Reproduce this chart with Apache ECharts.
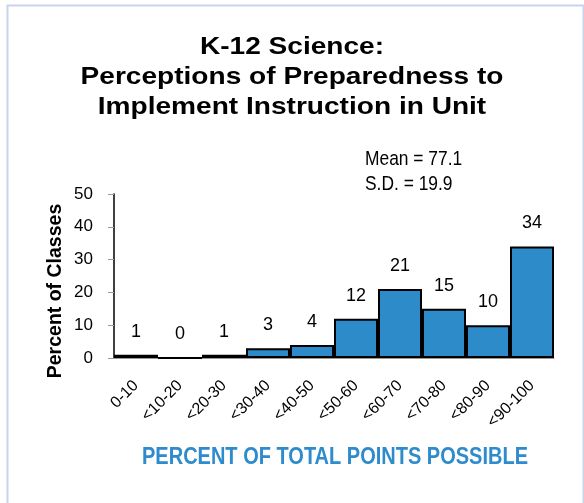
<!DOCTYPE html>
<html>
<head>
<meta charset="utf-8">
<script src="https://cdn.jsdelivr.net/npm/echarts@6/dist/echarts.min.js"></script>
<style>
html, body { margin: 0; padding: 0; background: #fff; }
#chart { width: 584px; height: 503px; }
</style>
</head>
<body>
<div id="chart"></div>
<script>
const categories = ['0-10', '<10-20', '<20-30', '<30-40', '<40-50', '<50-60', '<60-70', '<70-80', '<80-90', '<90-100'];
const percentOfClasses = [1, 0, 1, 3, 4, 12, 21, 15, 10, 34];
const yTicks = [0, 10, 20, 30, 40, 50];
const titleLines = ['K-12 Science:', 'Perceptions of Preparedness to', 'Implement Instruction in Unit'];
const statsLines = ['Mean = 77.1', 'S.D. = 19.9'];

const font = '"Liberation Sans", Arial, sans-serif';
const chart = echarts.init(document.getElementById('chart'));

const option = {
  animation: false,
  backgroundColor: '#fff',
  grid: { left: 114, right: 30, top: 194, bottom: 145 },
  graphic: [
    {
      type: 'rect',
      shape: { x: 7.5, y: 5.5, width: 576, height: 510 },
      style: { fill: 'none', stroke: '#c9d3ee', lineWidth: 2 },
      silent: true
    },
    {
      type: 'text',
      x: 292, y: 77,
      scaleX: 1.17,
      style: {
        text: titleLines.join('\n'),
        font: 'bold 24px ' + font,
        fill: '#000',
        align: 'center',
        verticalAlign: 'middle',
        lineHeight: 30
      }
    },
    {
      type: 'text',
      x: 365, y: 172,
      scaleY: 1.12,
      style: {
        text: statsLines.join('\n'),
        font: '17.4px ' + font,
        fill: '#000',
        align: 'left',
        verticalAlign: 'middle',
        lineHeight: 22.5
      }
    },
    {
      type: 'text',
      x: 56, y: 291,
      rotation: Math.PI / 2,
      style: {
        text: 'Percent of Classes',
        font: 'bold 19.5px ' + font,
        fill: '#000',
        align: 'center',
        verticalAlign: 'middle'
      }
    },
    {
      type: 'text',
      x: 335, y: 458,
      scaleY: 1.15,
      style: {
        text: 'PERCENT OF TOTAL POINTS POSSIBLE',
        font: 'bold 20px ' + font,
        fill: '#2e8bcc',
        align: 'center',
        verticalAlign: 'middle'
      }
    }
  ],
  xAxis: {
    type: 'category',
    data: categories,
    axisLine: { lineStyle: { color: '#999', width: 1 } },
    axisTick: { show: false },
    axisLabel: {
      rotate: 45,
      interval: 0,
      margin: 25,
      fontSize: 16,
      fontFamily: font,
      color: '#000'
    }
  },
  yAxis: {
    type: 'value',
    min: yTicks[0],
    max: yTicks[yTicks.length - 1],
    interval: 10,
    splitLine: { show: false },
    axisLine: { show: true, lineStyle: { color: '#000', width: 1.5 } },
    axisTick: { show: true, length: 6, lineStyle: { color: '#999' } },
    axisLabel: { margin: 21, fontSize: 17, fontFamily: font, color: '#000' }
  },
  series: [
    {
      type: 'bar',
      data: percentOfClasses,
      barCategoryGap: 0,
      itemStyle: { color: '#2e8bc9', borderColor: '#000', borderWidth: 2 },
      label: {
        show: true,
        position: 'top',
        distance: 14,
        fontSize: 18,
        fontFamily: font,
        color: '#000'
      }
    }
  ]
};

chart.setOption(option);
</script>
</body>
</html>
